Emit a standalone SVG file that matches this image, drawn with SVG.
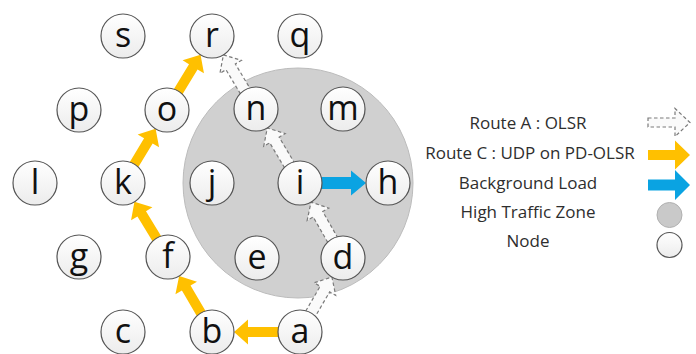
<svg xmlns="http://www.w3.org/2000/svg" width="696" height="354" viewBox="0 0 696 354">
<defs>
<linearGradient id="ng" x1="0" y1="0" x2="0" y2="1">
<stop offset="0" stop-color="#ffffff"/>
<stop offset="1" stop-color="#ececec"/>
</linearGradient>
</defs>
<style>
.node{fill:url(#ng);stroke:#555555;stroke-width:1.2}
.lbl{font-family:"Open Sans","Liberation Sans",sans-serif;font-size:34px;fill:#111;text-anchor:middle}
.leg{font-family:"Open Sans","Liberation Sans",sans-serif;font-size:17px;fill:#2e2e2e;text-anchor:middle}
.orange{fill:#FFC000;stroke:none}
.blue{fill:#0AA3E2;stroke:none}
.dash{fill:#fafafa;stroke:#7a7a7a;stroke-width:1.2;stroke-dasharray:3.5 2.5}
.zone{fill:#d0d0d0;stroke:#bcbcbc;stroke-width:1}
</style>
<rect width="696" height="354" fill="#ffffff"/>
<g id="zone">
<circle class="zone" cx="298" cy="183" r="115"/>
</g>
<g id="connectors">
<path class="orange" transform="translate(279,332) rotate(180)" d="M0,-5 L31,-5 L31,-12.5 L45,0 L31,12.5 L31,5 L0,5 Z"/>
<path class="orange" transform="translate(201.4,313.9) rotate(-120.4)" d="M0,-5 L30,-5 L30,-12.5 L44,0 L30,12.5 L30,5 L0,5 Z"/>
<path class="orange" transform="translate(157.1,239.1) rotate(-121.3)" d="M0,-5 L29.6,-5 L29.6,-12.5 L43.6,0 L29.6,12.5 L29.6,5 L0,5 Z"/>
<path class="orange" transform="translate(133.8,165) rotate(-58.9)" d="M0,-5 L28.2,-5 L28.2,-12.5 L42.2,0 L28.2,12.5 L28.2,5 L0,5 Z"/>
<path class="orange" transform="translate(177.9,92.1) rotate(-58.7)" d="M0,-5 L29.6,-5 L29.6,-12.5 L43.6,0 L29.6,12.5 L29.6,5 L0,5 Z"/>
<path class="blue" transform="translate(321,183) rotate(0)" d="M0,-6 L30,-6 L30,-12.5 L45,0 L30,12.5 L30,6 L0,6 Z"/>
<path class="dash" transform="translate(310.5,313.8) rotate(-59.8)" d="M0,-5.5 L28.6,-5.5 L28.6,-12.5 L42.6,0 L28.6,12.5 L28.6,5.5 L0,5.5 Z"/>
<path class="dash" transform="translate(332.6,239.8) rotate(-119.8)" d="M0,-5.5 L29.4,-5.5 L29.4,-12.5 L43.4,0 L29.4,12.5 L29.4,5.5 L0,5.5 Z"/>
<path class="dash" transform="translate(289.3,165) rotate(-120.7)" d="M0,-5.5 L29.1,-5.5 L29.1,-12.5 L43.1,0 L29.1,12.5 L29.1,5.5 L0,5.5 Z"/>
<path class="dash" transform="translate(245.2,91) rotate(-121.1)" d="M0,-5.5 L28.2,-5.5 L28.2,-12.5 L42.2,0 L28.2,12.5 L28.2,5.5 L0,5.5 Z"/>
</g>
<g id="node-s"><circle class="node" cx="123" cy="36" r="22"/><text class="lbl" x="123" y="47">s</text></g>
<g id="node-r"><circle class="node" cx="212" cy="36" r="22"/><text class="lbl" x="212" y="47">r</text></g>
<g id="node-q"><circle class="node" cx="300" cy="36" r="22"/><text class="lbl" x="300" y="47">q</text></g>
<g id="node-p"><circle class="node" cx="79" cy="110" r="22"/><text class="lbl" x="79" y="121">p</text></g>
<g id="node-o"><circle class="node" cx="167" cy="110" r="22"/><text class="lbl" x="167" y="121">o</text></g>
<g id="node-n"><circle class="node" cx="256" cy="109" r="22"/><text class="lbl" x="256" y="120">n</text></g>
<g id="node-m"><circle class="node" cx="343" cy="109" r="22"/><text class="lbl" x="343" y="120">m</text></g>
<g id="node-l"><circle class="node" cx="35" cy="183" r="22"/><text class="lbl" x="35" y="194">l</text></g>
<g id="node-k"><circle class="node" cx="123" cy="183" r="22"/><text class="lbl" x="123" y="194">k</text></g>
<g id="node-j"><circle class="node" cx="212" cy="183" r="22"/><text class="lbl" x="212" y="194">j</text></g>
<g id="node-i"><circle class="node" cx="300" cy="183" r="22"/><text class="lbl" x="300" y="194">i</text></g>
<g id="node-h"><circle class="node" cx="388" cy="183" r="22"/><text class="lbl" x="388" y="194">h</text></g>
<g id="node-g"><circle class="node" cx="79" cy="257" r="22"/><text class="lbl" x="79" y="268">g</text></g>
<g id="node-f"><circle class="node" cx="168" cy="257" r="22"/><text class="lbl" x="168" y="268">f</text></g>
<g id="node-e"><circle class="node" cx="257" cy="258" r="22"/><text class="lbl" x="257" y="269">e</text></g>
<g id="node-d"><circle class="node" cx="343" cy="258" r="22"/><text class="lbl" x="343" y="269">d</text></g>
<g id="node-c"><circle class="node" cx="123" cy="332" r="22"/><text class="lbl" x="123" y="343">c</text></g>
<g id="node-b"><circle class="node" cx="212" cy="332" r="22"/><text class="lbl" x="212" y="343">b</text></g>
<g id="node-a"><circle class="node" cx="300" cy="332" r="22"/><text class="lbl" x="300" y="343">a</text></g>
<g id="legend">
<text class="leg" x="528" y="129">Route A : OLSR</text>
<text class="leg" x="530" y="159">Route C : UDP on PD-OLSR</text>
<text class="leg" x="528" y="189">Background Load</text>
<text class="leg" x="528" y="218">High Traffic Zone</text>
<text class="leg" x="528" y="247">Node</text>
<path class="dash" transform="translate(648,122.5)" d="M0,-4.5 L27,-4.5 L27,-14 L42,0 L27,14 L27,4.5 L0,4.5 Z"/>
<path class="orange" transform="translate(648,155)" d="M0,-5 L27,-5 L27,-14.5 L42,0 L27,14.5 L27,5 L0,5 Z"/>
<path class="blue" transform="translate(648,185)" d="M0,-5.5 L27,-5.5 L27,-15 L42,0 L27,15 L27,5.5 L0,5.5 Z"/>
<circle cx="669.5" cy="215" r="12.5" fill="#c9c9c9" stroke="#b0b0b0" stroke-width="1"/>
<circle class="node" cx="669.5" cy="245" r="12.5"/>
</g>
</svg>
